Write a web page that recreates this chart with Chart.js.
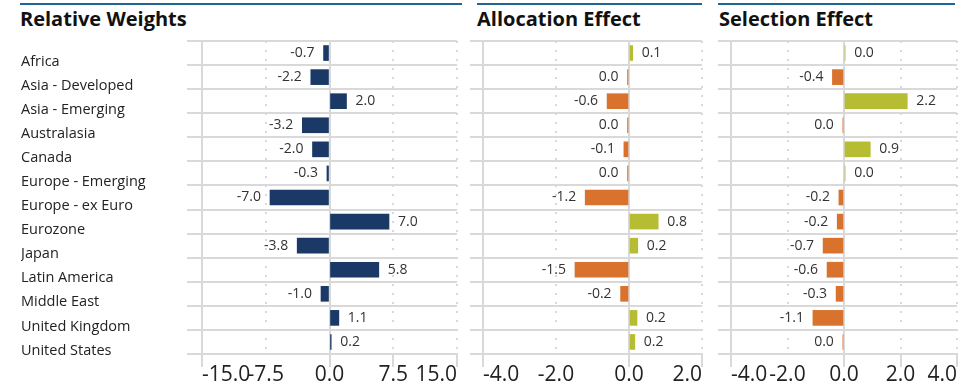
<!DOCTYPE html>
<html>
<head>
<meta charset="utf-8">
<script src="https://cdn.jsdelivr.net/npm/chart.js@4"></script>
<style>
  body { margin: 0; background: #fff; }
  #wrap { position: relative; width: 977px; height: 383px; overflow: hidden; font-family: "Open Sans", sans-serif; }
  .panel { position: absolute; left: 0; top: 0; width: 977px; height: 383px; }
  .rule { position: absolute; top: 3px; height: 2px; background: #1d6792; }
  .title { position: absolute; top: 9px; font-size: 20px; line-height: 20px; font-weight: 700; color: #111; white-space: nowrap; }
</style>
</head>
<body>
<div id="wrap">
  <div class="rule" style="left:20px; width:442px"></div>
  <div class="rule" style="left:477px; width:225px"></div>
  <div class="rule" style="left:718px; width:237px"></div>
  <div class="title" style="left:20px">Relative Weights</div>
  <div class="title" style="left:477px">Allocation Effect</div>
  <div class="title" style="left:719px">Selection Effect</div>
  <div class="panel"><canvas id="relativeChart"></canvas></div>
  <div class="panel"><canvas id="allocationChart"></canvas></div>
  <div class="panel"><canvas id="selectionChart"></canvas></div>
</div>
<script>
const categories = [
  'Africa', 'Asia - Developed', 'Asia - Emerging', 'Australasia', 'Canada',
  'Europe - Emerging', 'Europe - ex Euro', 'Eurozone', 'Japan', 'Latin America',
  'Middle East', 'United Kingdom', 'United States'
];
const relativeWeights = [-0.7, -2.2, 2.0, -3.2, -2.0, -0.3, -7.0, 7.0, -3.8, 5.8, -1.0, 1.1, 0.2];
const allocationEffect = [0.1, -0.04, -0.6, -0.04, -0.14, -0.04, -1.2, 0.8, 0.24, -1.48, -0.23, 0.22, 0.16];
const selectionEffect = [0.04, -0.41, 2.24, -0.04, 0.93, 0.04, -0.18, -0.24, -0.74, -0.6, -0.28, -1.1, -0.04];

const relativeTicks = [-15, -7.5, 0, 7.5, 15];
const allocationTicks = [-4, -2, 0, 2];
const selectionTicks = [-4, -2, 0, 2, 4];

const NAVY = '#1a3966';
const GREEN = '#b7bd33';
const ORANGE = '#d9722c';
const GRID = '#d9d9d9';
const FONT = '"Open Sans", sans-serif';

// value printed next to the end of each bar
const valueLabels = {
  id: 'valueLabels',
  afterDatasetsDraw(chart) {
    const ctx = chart.ctx;
    const values = chart.data.datasets[0].data;
    ctx.save();
    ctx.font = '14px ' + FONT;
    ctx.fillStyle = '#333';
    ctx.textBaseline = 'middle';
    chart.getDatasetMeta(0).data.forEach((bar, i) => {
      const v = values[i];
      const text = Math.abs(v) < 0.05 ? '0.0' : v.toFixed(1);
      if (v >= 0) {
        ctx.textAlign = 'left';
        ctx.fillText(text, bar.x + 9, bar.y);
      } else {
        ctx.textAlign = 'right';
        ctx.fillText(text, bar.x - 9, bar.y);
      }
    });
    ctx.restore();
  }
};

function makePanel(id, values, colors, ticks, box) {
  new Chart(document.getElementById(id), {
    type: 'bar',
    data: {
      labels: categories,
      datasets: [{
        data: values,
        backgroundColor: colors,
        barThickness: 15
      }]
    },
    options: {
      indexAxis: 'y',
      responsive: true,
      maintainAspectRatio: false,
      animation: false,
      layout: { padding: { left: box.left, right: box.right, top: 41, bottom: 0 } },
      plugins: { legend: { display: false }, tooltip: { enabled: false } },
      scales: {
        x: {
          min: ticks[0],
          max: ticks[ticks.length - 1],
          afterBuildTicks: s => { s.ticks = ticks.map(v => ({ value: v })); },
          afterFit: s => { s.height = 29; },
          grid: {
            color: GRID,
            lineWidth: 2,
            tickLength: 13,
            tickWidth: 2,
            tickColor: c => c.index === 1 ? 'rgba(0,0,0,0)' : GRID
          },
          border: {
            display: true,
            color: GRID,
            width: 2,
            dash: c => (!c.tick || c.tick.value === 0 || c.index === 0) ? [] : [2, 7]
          },
          ticks: {
            autoSkip: false,
            maxRotation: 0,
            align: 'inner',
            padding: 0,
            color: '#222',
            font: { family: FONT, size: 21, lineHeight: 0.72 },
            callback: v => Number(v).toFixed(1)
          }
        },
        y: {
          afterFit: s => { s.width = box.axis; },
          grid: { color: GRID, lineWidth: 2, tickLength: box.tick, tickWidth: 2, tickColor: GRID },
          border: { display: true, color: GRID, width: 2 },
          ticks: {
            display: box.labels,
            crossAlign: 'far',
            labelOffset: 8.5,
            color: '#222',
            font: { family: FONT, size: 14.5 }
          }
        }
      }
    },
    plugins: [valueLabels]
  });
}

makePanel('relativeChart', relativeWeights, NAVY, relativeTicks,
  { left: 21, axis: 181, tick: 15, right: 977 - 457, labels: true });
makePanel('allocationChart', allocationEffect, allocationEffect.map(v => v >= 0 ? GREEN : ORANGE), allocationTicks,
  { left: 470, axis: 13, tick: 13, right: 977 - 702, labels: false });
makePanel('selectionChart', selectionEffect, selectionEffect.map(v => v >= 0 ? GREEN : ORANGE), selectionTicks,
  { left: 718, axis: 13, tick: 13, right: 977 - 957, labels: false });
</script>
</body>
</html>
